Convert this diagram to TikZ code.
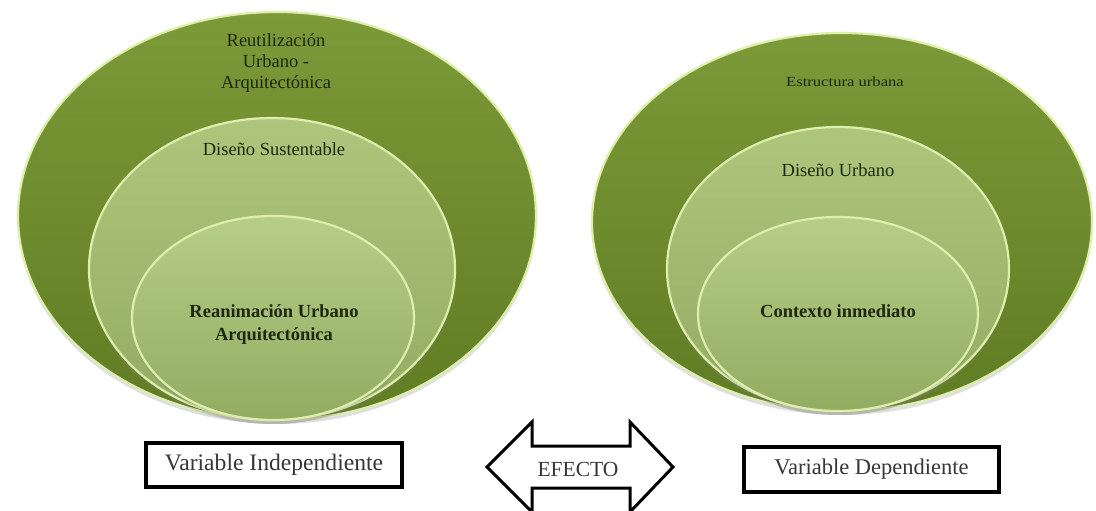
\documentclass[tikz,border=0pt]{standalone}
\usepackage{fontspec}
\setmainfont{Liberation Serif}
\usetikzlibrary{shapes.geometric,shadows}
\definecolor{outerTop}{RGB}{124,154,56}
\definecolor{outerBot}{RGB}{96,124,36}
\definecolor{midTop}{RGB}{174,198,124}
\definecolor{midBot}{RGB}{146,172,98}
\definecolor{innTop}{RGB}{182,206,134}
\definecolor{innBot}{RGB}{146,172,98}
\definecolor{rimcol}{RGB}{222,238,172}
\definecolor{txtcol}{RGB}{30,40,16}
\definecolor{boxtxt}{RGB}{55,55,55}
\tikzset{
  ell/.style={ellipse, inner sep=0pt, outer sep=0pt, draw=rimcol, line width=2.2pt,
    drop shadow={opacity=0.25, shadow xshift=0pt, shadow yshift=-4pt}},
  outerell/.style={ell, top color=outerTop, bottom color=outerBot},
  midell/.style={ell, top color=midTop, bottom color=midBot},
  innell/.style={ell, top color=innTop, bottom color=innBot},
  lbl/.style={text=txtcol, align=center, inner sep=0pt, font=\fontsize{18.5}{21}\selectfont},
  blbl/.style={lbl, font=\fontsize{18.5}{23}\selectfont\bfseries},
  varbox/.style={draw=black, line width=3.2pt, fill=white, inner sep=0pt, text=boxtxt},
  arrowline/.style={draw=black, line width=3pt, fill=white, line join=miter},
}
\begin{document}
\begin{tikzpicture}[x=1pt,y=-1pt]
\useasboundingbox (0,0) rectangle (1096,511);
\fill[white] (0,0) rectangle (1096,511);
% left target
\node[outerell, minimum width=518pt, minimum height=408pt] (lout) at (277,216) {};
\node[midell, minimum width=366pt, minimum height=302pt] (lmid) at (272,269) {};
\node[innell, minimum width=282pt, minimum height=204pt] (linn) at (273,318) {};
\node[lbl] (ltxt1) at (276,63) {Reutilización\\Urbano -\\Arquitectónica};
\node[lbl] (ltxt2) at (274,149) {Diseño Sustentable};
\node[blbl] (ltxt3) at (274,325) {Reanimación Urbano\\Arquitectónica};
% right target
\node[outerell, minimum width=500pt, minimum height=378pt] (rout) at (842,222) {};
\node[midell, minimum width=342pt, minimum height=284pt] (rmid) at (838,269) {};
\node[innell, minimum width=280pt, minimum height=194pt] (rinn) at (838,314) {};
\node[lbl] (rtxt1) at (845,82) {\scalebox{1.25}[1.05]{\fontsize{13.3}{16}\selectfont Estructura urbana}};
\node[lbl] (rtxt2) at (838,170) {Diseño Urbano};
\node[blbl] (rtxt3) at (838,311) {Contexto inmediato};
% bottom boxes
\node[varbox, minimum width=256pt, minimum height=44pt, font=\fontsize{23.6}{25}\selectfont] (vind) at (274,465) {Variable Independiente};
\node[varbox, minimum width=255pt, minimum height=45pt, font=\fontsize{22.5}{24}\selectfont] (vdep) at (871.5,469.5) {Variable Dependiente};
% double arrow
\path[arrowline] (487,467) -- (532,422) -- (532,446) -- (630,446) -- (630,422)
  -- (673,467) -- (630,512) -- (630,488) -- (532,488) -- (532,512) -- cycle;
\node[text=boxtxt, inner sep=0pt, font=\fontsize{21.5}{23}\selectfont] (efecto) at (578,469) {EFECTO};
\end{tikzpicture}
\end{document}
